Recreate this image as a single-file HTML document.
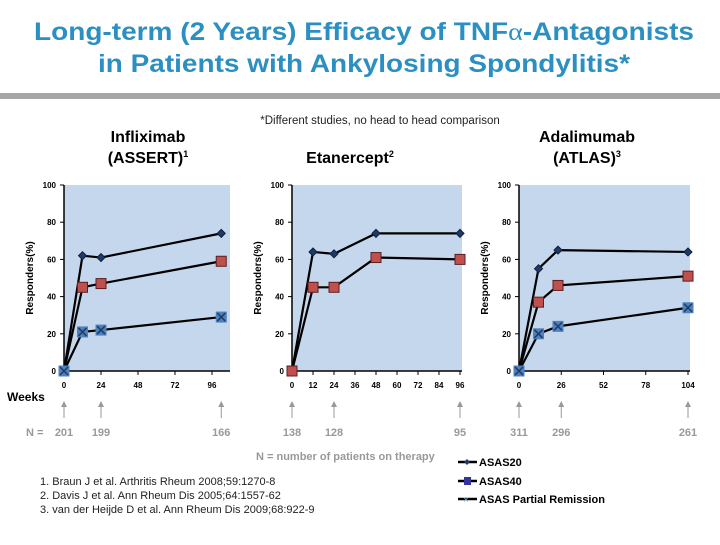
<!DOCTYPE html>
<html><head><meta charset="utf-8"><style>
body{margin:0;background:#fff;font-family:"Liberation Sans",Arial,sans-serif}
svg text{font-family:"Liberation Sans",Arial,sans-serif}
</style></head><body>
<svg id="s" width="720" height="540" viewBox="0 0 720 540" xmlns="http://www.w3.org/2000/svg">
<text x="364" y="40" text-anchor="middle" font-size="25" font-weight="bold" fill="#2b8fc2" textLength="660" lengthAdjust="spacingAndGlyphs">Long-term (2 Years) Efficacy of TNF<tspan font-family="Liberation Serif" font-weight="normal">α</tspan>-Antagonists</text>
<text x="364" y="72" text-anchor="middle" font-size="25" font-weight="bold" fill="#2b8fc2" textLength="532" lengthAdjust="spacingAndGlyphs">in Patients with Ankylosing Spondylitis*</text>
<rect x="0" y="93" width="720" height="6" fill="#a6a6a6"/>
<text x="380" y="124" text-anchor="middle" font-size="11.5" fill="#222">*Different studies, no head to head comparison</text>
<text x="148" y="142" text-anchor="middle" font-size="16" font-weight="bold">Infliximab</text>
<text x="148" y="163" text-anchor="middle" font-size="16" font-weight="bold">(ASSERT)<tspan font-size="9" dy="-6">1</tspan></text>
<text x="350" y="163" text-anchor="middle" font-size="16" font-weight="bold">Etanercept<tspan font-size="9" dy="-6">2</tspan></text>
<text x="587" y="142" text-anchor="middle" font-size="16" font-weight="bold">Adalimumab</text>
<text x="587" y="163" text-anchor="middle" font-size="16" font-weight="bold">(ATLAS)<tspan font-size="9" dy="-6">3</tspan></text>
<text x="7" y="401" font-size="12" font-weight="bold">Weeks</text>
<text x="26" y="436" font-size="11" font-weight="bold" fill="#999">N =</text>
<text x="256" y="460" font-size="11" font-weight="bold" fill="#999">N = number of patients on therapy</text>
<text x="40" y="485" font-size="11" fill="#222">1. Braun J et al. Arthritis Rheum 2008;59:1270-8</text>
<text x="40" y="499" font-size="11" fill="#222">2. Davis J et al. Ann Rheum Dis 2005;64:1557-62</text>
<text x="40" y="513" font-size="11" fill="#222">3. van der Heijde D et al. Ann Rheum Dis 2009;68:922-9</text>
<g>
<g><line x1="458" y1="462" x2="477" y2="462" stroke="#000" stroke-width="2.5"/><path d="M467 459 L470 462 L467 465 L464 462Z" fill="#1f3a64"/><text x="479" y="466" font-size="11" font-weight="bold">ASAS20</text></g>
<g><line x1="458" y1="481" x2="477" y2="481" stroke="#000" stroke-width="2.5"/><rect x="464" y="477" width="7" height="8" fill="#333399"/><text x="479" y="485" font-size="11" font-weight="bold">ASAS40</text></g>
<g><line x1="458" y1="499" x2="477" y2="499" stroke="#000" stroke-width="2.5"/><text x="463" y="503" font-size="10" fill="#7fb0d0">×</text><text x="479" y="503" font-size="11" font-weight="bold">ASAS Partial Remission</text></g>
</g>
</svg>
<script>
const yTicks=[0,20,40,60,80,100];
const c1Weeks=[0,12,24,102];
const c1Asas20=[0,62,61,74];
const c1Asas40=[0,45,47,59];
const c1Pr=[0,21,22,29];
const c1Ticks=[0,24,48,72,96];
const c1N=[201,199,166];
const c1NWeeks=[0,24,102];
const c2Weeks=[0,12,24,48,96];
const c2Asas20=[0,64,63,74,74];
const c2Asas40=[0,45,45,61,60];
const c2Ticks=[0,12,24,36,48,60,72,84,96];
const c2N=[138,128,95];
const c2NWeeks=[0,24,96];
const c3Weeks=[0,12,24,104];
const c3Asas20=[0,55,65,64];
const c3Asas40=[0,37,46,51];
const c3Pr=[0,20,24,34];
const c3Ticks=[0,26,52,78,104];
const c3N=[311,296,261];
const c3NWeeks=[0,26,104];

const NS='http://www.w3.org/2000/svg';
const svg=document.getElementById('s');
function mk(tag,attrs,parent){const e=document.createElementNS(NS,tag);for(const k in attrs)e.setAttribute(k,attrs[k]);(parent||svg).appendChild(e);return e;}
function chart(name,x0,x1,xmax,weeks,series,ticks,ns,nWeeks,wMaxPlot){
  const top=185,bot=371;
  const X=w=>x0+(x1-x0)*w/xmax;
  const Y=v=>bot-(bot-top)*v/100;
  const g=mk('g',{});
  
  
  const bg=mk('rect',{x:x0,y:top,width:wMaxPlot-x0,height:bot-top,fill:'#c5d7ec'},g);
  
  
  mk('line',{x1:x0,y1:top,x2:x0,y2:bot,stroke:'#000','stroke-width':1.5},g);
  mk('line',{x1:x0,y1:bot,x2:wMaxPlot,y2:bot,stroke:'#000','stroke-width':1.5},g);
  yTicks.forEach(t=>{
    mk('line',{x1:x0-4,y1:Y(t),x2:x0,y2:Y(t),stroke:'#000'},g);
    const tx=mk('text',{x:x0-8,y:Y(t)+3,'text-anchor':'end','font-size':8,'font-weight':'bold'},g);
    tx.textContent=t;
    
    
  });
  ticks.forEach(t=>{
    mk('line',{x1:X(t),y1:bot,x2:X(t),y2:bot+4,stroke:'#000'},g);
    const tx=mk('text',{x:X(t),y:bot+17,'text-anchor':'middle','font-size':8,'font-weight':'bold'},g);
    tx.textContent=t;
    
    
  });
  const yl=mk('text',{x:0,y:0,'text-anchor':'middle','font-size':10,'font-weight':'bold',transform:`translate(${x0-31},${(top+bot)/2}) rotate(-90)`},g);
  yl.textContent='Responders(%)';
  
  
  series.forEach(s=>{
    const pts=weeks.map((w,i)=>X(w)+','+Y(s.v[i])).join(' ');
    const pl=mk('polyline',{points:pts,fill:'none',stroke:'#000','stroke-width':2.2},g);
    
    
    weeks.forEach((w,i)=>{
      const cx=X(w),cy=Y(s.v[i]);let m;
      if(s.n==='asas20'){m=mk('path',{d:`M${cx} ${cy-4}L${cx+4} ${cy}L${cx} ${cy+4}L${cx-4} ${cy}Z`,fill:'#1f3a64',stroke:'#0f2040'},g);}
      else if(s.n==='asas40'){m=mk('rect',{x:cx-5,y:cy-5,width:10,height:10,fill:'#c0504d',stroke:'#5a1f1f'},g);}
      else{m=mk('g',{},g);mk('rect',{x:cx-5,y:cy-5,width:10,height:10,fill:'#4f81bd',stroke:'#4f81bd'},m);mk('path',{d:`M${cx-4} ${cy-4}L${cx+4} ${cy+4}M${cx+4} ${cy-4}L${cx-4} ${cy+4}`,stroke:'#1f3a64','stroke-width':1.5},m);}
      
      
    });
  });
  ns.forEach((n,i)=>{
    const ax=X(nWeeks[i]);
    const a=mk('g',{},g);
    
    
    mk('line',{x1:ax,y1:404,x2:ax,y2:418,stroke:'#999','stroke-width':1},a);
    mk('path',{d:`M${ax-3} 407L${ax} 401L${ax+3} 407Z`,fill:'#999'},a);
    const t=mk('text',{x:ax,y:436,'text-anchor':'middle','font-size':11,'font-weight':'bold',fill:'#999'},g);
    t.textContent=n;
    
    
  });
}
chart('infliximab-chart',64,212,96,c1Weeks,[{n:'asas20',v:c1Asas20},{n:'asas40',v:c1Asas40},{n:'asas-pr',v:c1Pr}],c1Ticks,c1N,c1NWeeks,230);
chart('etanercept-chart',292,460,96,c2Weeks,[{n:'asas20',v:c2Asas20},{n:'asas40',v:c2Asas40}],c2Ticks,c2N,c2NWeeks,462);
chart('adalimumab-chart',519,688,104,c3Weeks,[{n:'asas20',v:c3Asas20},{n:'asas40',v:c3Asas40},{n:'asas-pr',v:c3Pr}],c3Ticks,c3N,c3NWeeks,690);
</script>
</body></html>
